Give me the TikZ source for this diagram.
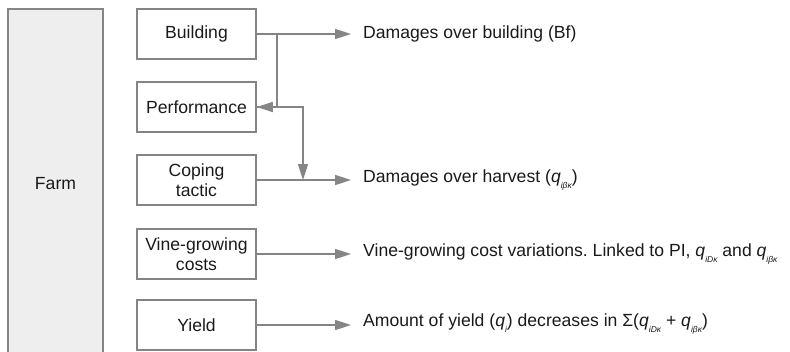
\documentclass[tikz,border=0pt]{standalone}
\usepackage{fontspec}
\setmainfont{Liberation Sans}
\usetikzlibrary{arrows.meta}
\frenchspacing
\definecolor{lc}{HTML}{858585}
\definecolor{fc}{HTML}{EEEEEE}
\definecolor{tc}{HTML}{1A1A1A}
\newcommand{\qs}[1]{\textit{q}\raisebox{-0.36em}{\fontsize{8.5}{9}\selectfont\itshape #1}}
\tikzset{
  box/.style={draw=lc, line width=1.6pt, minimum width=119pt, minimum height=50pt, inner sep=0pt, align=center, text=tc, font=\fontsize{17.6}{19.5}\selectfont},
  lbl/.style={anchor=west, inner sep=0pt, text=tc, font=\fontsize{17.6}{19.5}\selectfont},
  arr/.style={draw=lc, line width=1.6pt, -{Triangle[length=16pt,width=10pt]}},
  ln/.style={draw=lc, line width=1.6pt}
}
\begin{document}
\begin{tikzpicture}[x=1pt,y=-1pt]
\useasboundingbox (0,0) rectangle (790,351);
\node[draw=lc, fill=fc, line width=1.6pt, minimum width=95pt, minimum height=350pt, inner sep=0pt, text=tc, font=\fontsize{17.6}{19.5}\selectfont] (farm) at (55.5,184) {Farm};
\node[box] (bld) at (196.5,34) {Building};
\node[box] (perf) at (196.5,107) {Performance};
\node[box] (cope) at (196.5,180) {Coping\\tactic};
\node[box] (vine) at (196.5,254) {Vine-growing\\costs};
\node[box] (yld) at (196.5,325) {Yield};
\coordinate (e1) at (351,34);
\coordinate (e2) at (351,180);
\coordinate (e3) at (351,254);
\coordinate (e4) at (351,325);
\node[lbl] (t1) at (363,34) {Damages over building (Bf)};
\node[lbl] (t2) at (363,180) {Damages over harvest (\qs{iβκ})};
\node[lbl] (t3) at (363,254) {Vine-growing cost variations. Linked to PI, \qs{iDκ} and \qs{iβκ}};
\node[lbl] (t4) at (363,324) {Amount of yield (\qs{i}) decreases in Σ(\qs{iDκ} + \qs{iβκ})};
\draw[arr] (bld.east) -- (e1);
\draw[arr] (cope.east) -- (e2);
\draw[arr] (vine.east) -- (e3);
\draw[arr] (yld.east) -- (e4);
\coordinate (j1) at (277,34);
\coordinate (j2) at (277,107);
\coordinate (j3) at (303,107);
\coordinate (j4) at (303,180);
\draw[arr] (j1) -- (j2) -- (perf.east);
\draw[arr] (perf.east) -- (j3) -- (j4);
\end{tikzpicture}
\end{document}
